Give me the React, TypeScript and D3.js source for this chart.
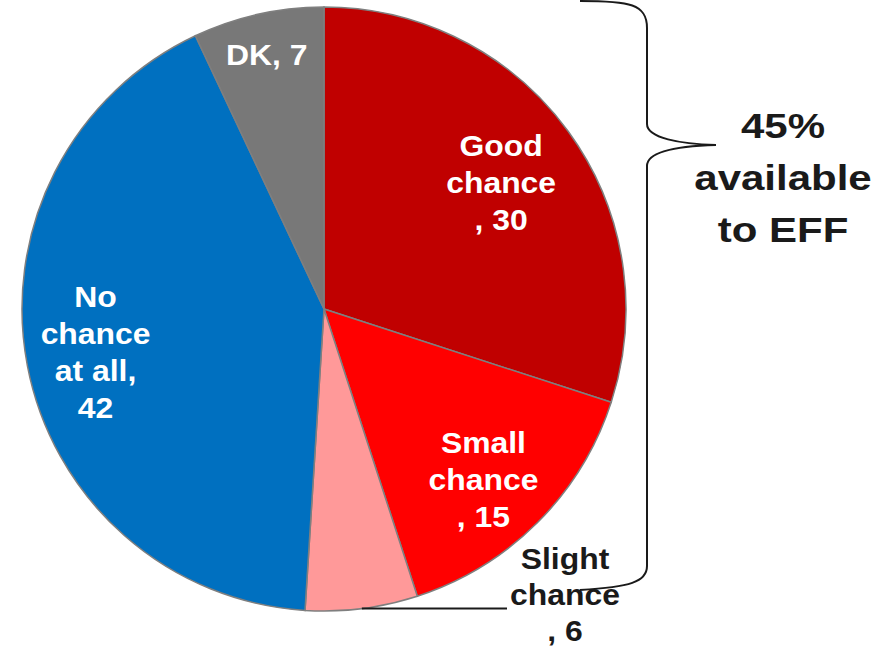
import * as React from 'react';
import * as d3 from 'd3';

// chart data
const categories: string[] = ['Good chance', 'Small chance', 'Slight chance', 'No chance at all', 'DK'];
const values: number[] = [30, 15, 6, 42, 7];
const sliceColors: string[] = ['#c00000', '#ff0000', '#ff9999', '#0070c0', '#787878'];
// label text, split in lines the way the chart wraps them
const labelLines: string[][] = [
	['Good', 'chance', ', 30'],
	['Small', 'chance', ', 15'],
	['Slight', 'chance', ', 6'],
	['No', 'chance', 'at all,', '42'],
	['DK, 7'],
];
const annotationLines: string[] = ['45%', 'available', 'to EFF'];

const W = 881;
const H = 650;
const cx = 324;
const cy = 309;
const radius = 302;
const lineHeight = 37;
// fraction of the radius where each inside label sits, plus a small nudge
const labelRadiusFrac: number[] = [0.725, 0.77, 0, 0.77, 0.87];
const labelNudge: [number, number][] = [
	[0, 3],
	[-5, 7],
	[0, 0],
	[0, 0],
	[0, 2],
];

const App = () => {
	const pie = d3
		.pie<number>()
		.value((d) => d)
		.sort(null);
	const arcs = pie(values);
	const arcPath = d3.arc<d3.PieArcDatum<number>>().innerRadius(0).outerRadius(radius);

	const midAngle = (d: d3.PieArcDatum<number>) => (d.startAngle + d.endAngle) / 2;
	const pointAt = (d: d3.PieArcDatum<number>, r: number): [number, number] => [
		r * Math.sin(midAngle(d)),
		-r * Math.cos(midAngle(d)),
	];

	const renderLabel = (lines: string[], x: number, y: number, fill: string, key: string, lh = lineHeight) => {
		const first = y - ((lines.length - 1) / 2) * lh + 10;
		return (
			<g key={key} transform={`translate(${x},0) scale(1.1,1)`}>
				<text textAnchor="middle" fill={fill} fontSize={29} fontWeight="bold" fontFamily="'Liberation Sans', Arial, sans-serif">
					{lines.map((l, i) => (
						<tspan key={i} x={0} y={first + i * lh}>
							{l}
						</tspan>
					))}
				</text>
			</g>
		);
	};

	// slight chance label sits outside, joined by a leader line
	const slight = arcs[2];
	const leaderStart = pointAt(slight, radius);

	return (
		<svg width={W} height={H} style={{ position: 'absolute', left: 0, top: 0, background: '#fff' }}>
			<g transform={`translate(${cx},${cy})`}>
				{arcs.map((a, i) => (
					<path key={categories[i]} d={arcPath(a) || ''} fill={sliceColors[i]} stroke="#7f7f7f" strokeWidth={1.5} />
				))}
				<line
					x1={leaderStart[0]}
					y1={leaderStart[1]}
					x2={507 - cx}
					y2={leaderStart[1]}
					stroke="#1a1a1a"
					strokeWidth={2}
				/>
			</g>
			{arcs.map((a, i) => {
				if (i === 2) return null;
				const p = pointAt(a, radius * labelRadiusFrac[i]);
				return renderLabel(labelLines[i], cx + p[0] + labelNudge[i][0], cy + p[1] + labelNudge[i][1], '#ffffff', categories[i]);
			})}
			{renderLabel(labelLines[2], 565, 595, '#1a1a1a', 'slight', 36)}
			{/* curly brace grouping the 45% available */}
			<path
				d="M580,1 C630,1 647,4 647,28 L647,124 C647,138 680,144 716,145 C680,146 647,151 647,166 L647,566 C647,582 630,587 580,590"
				fill="none"
				stroke="#1a1a1a"
				strokeWidth={2}
			/>
			<g transform="translate(783,0) scale(1.2,1)">
				<text textAnchor="middle" fill="#1a1a1a" fontSize={35} fontWeight="bold" fontFamily="'Liberation Sans', Arial, sans-serif">
					{annotationLines.map((l, i) => (
						<tspan key={i} x={0} y={138 + i * 52}>
							{l}
						</tspan>
					))}
				</text>
			</g>
		</svg>
	);
};

export default App;
